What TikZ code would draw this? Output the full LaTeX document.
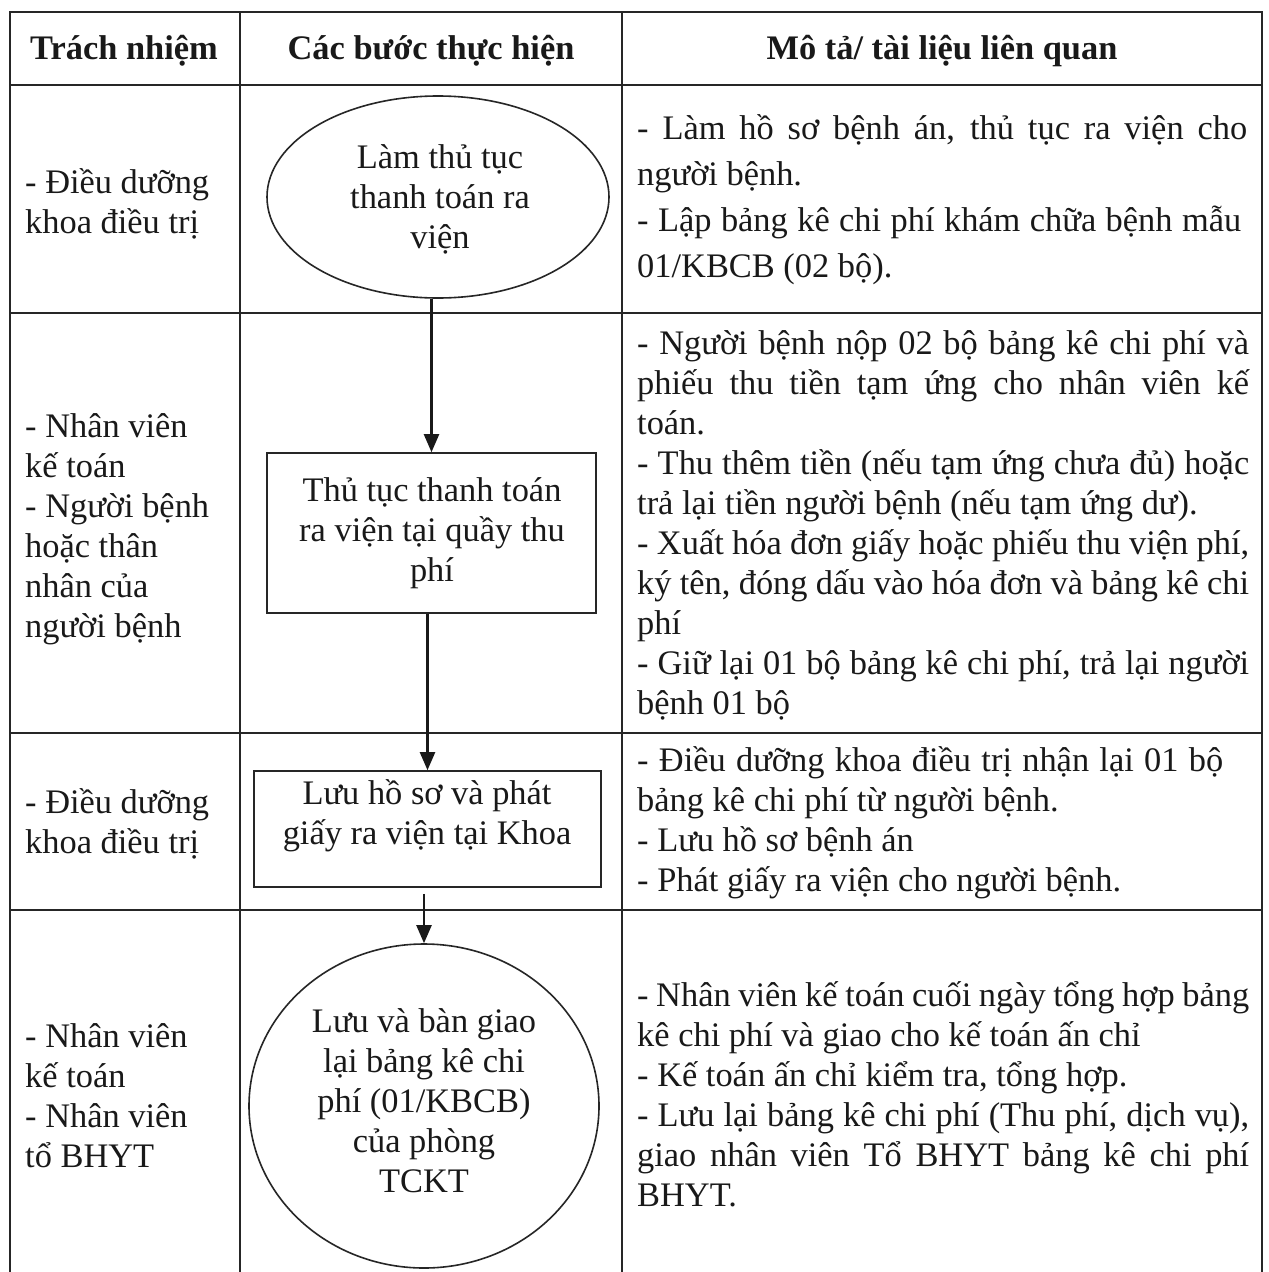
\documentclass[tikz,border=0pt]{standalone}
\usepackage{fontspec}
\setmainfont{Liberation Serif}
\usetikzlibrary{arrows.meta,shapes.geometric}
\newcommand\jl[2]{\makebox[#1pt][s]{#2}}
\begin{document}
\begin{tikzpicture}[x=1pt,y=-1pt,
  tbl/.style={line width=1.8pt, draw=black!85},
  shp/.style={draw=black!85, line width=1.6pt, inner sep=0pt},
  arr/.style={line width=2.2pt, draw=black!90, -{Triangle[length=18pt,width=15pt]}},
  txt/.style={inner sep=0pt, yshift=-3pt, align=left, text=black!90, font=\fontsize{34.4}{40}\selectfont},
  ctr/.style={inner sep=0pt, yshift=-3pt, align=center, text=black!90, font=\fontsize{34.4}{40}\selectfont},
  hdr/.style={inner sep=0pt, yshift=-3pt, text=black!90, font=\fontsize{34.4}{40}\selectfont\bfseries}]
\useasboundingbox (0,0) rectangle (1269,1272);
\fill[white] (0,0) rectangle (1269,1272);
% table
\draw[tbl] (10,1272) -- (10,12) -- (1262,12) -- (1262,1272);
\draw[tbl] (240,12) -- (240,1272);
\draw[tbl] (622,12) -- (622,1272);
\foreach \y in {85,313,733,910} \draw[tbl] (10,\y) -- (1262,\y);
% headers
\node[hdr] (h1) at (124,48) {Trách nhiệm};
\node[hdr] (h2) at (431,48) {Các bước thực hiện};
\node[hdr] (h3) at (942,48) {Mô tả/ tài liệu liên quan};
% left column
\node[txt, anchor=west] (l1) at (25,201) {- Điều dưỡng\\khoa điều trị};
\node[txt, anchor=west] (l2) at (25,526) {- Nhân viên\\kế toán\\- Người bệnh\\hoặc thân\\nhân của\\người bệnh};
\node[txt, anchor=west] (l3) at (25,821) {- Điều dưỡng\\khoa điều trị};
\node[txt, anchor=west] (l4) at (25,1093) {- Nhân viên\\kế toán\\- Nhân viên\\tổ BHYT};
% flow shapes
\node[shp, ellipse, minimum width=342, minimum height=202] (e1) at (438,197) {};
\node[ctr] (t1) at (440,196) {Làm thủ tục\\thanh toán ra\\viện};
\node[shp, rectangle, minimum width=329, minimum height=160] (r2) at (431.5,533) {};
\node[ctr] (t2) at (432,530) {Thủ tục thanh toán\\ra viện tại quầy thu\\phí};
\node[shp, rectangle, minimum width=347, minimum height=116] (r3) at (427.5,829) {};
\node[ctr] (t3) at (427,813) {Lưu hồ sơ và phát\\giấy ra viện tại Khoa};
\node[shp, ellipse, minimum width=350, minimum height=324] (c4) at (424,1106) {};
\node[ctr] (t4) at (424,1098) {Lưu và bàn giao\\lại bảng kê chi\\phí (01/KBCB)\\của phòng\\TCKT};
% arrows
\draw[arr] (r2.north |- e1.south) -- (r2.north);
\draw[arr] (r3.north |- r2.south) -- (r3.north);
\coordinate (a3) at ([yshift=-6pt]r3.south -| c4.north);
\draw[arr] (a3) -- (c4.north);
% right column
\node[txt, anchor=west, font=\fontsize{34.4}{46}\selectfont] (d1) at (637,197) {\jl{610}{- Làm hồ sơ bệnh án, thủ tục ra viện cho}\\người bệnh.\\\jl{604}{- Lập bảng kê chi phí khám chữa bệnh mẫu}\\01/KBCB (02 bộ).};
\node[txt, anchor=west] (d2) at (637,522) {\jl{612}{- Người bệnh nộp 02 bộ bảng kê chi phí và}\\\jl{612}{phiếu thu tiền tạm ứng cho nhân viên kế}\\toán.\\\jl{612}{- Thu thêm tiền (nếu tạm ứng chưa đủ) hoặc}\\trả lại tiền người bệnh (nếu tạm ứng dư).\\\jl{612}{- Xuất hóa đơn giấy hoặc phiếu thu viện phí,}\\\jl{612}{ký tên, đóng dấu vào hóa đơn và bảng kê chi}\\phí\\\jl{612}{- Giữ lại 01 bộ bảng kê chi phí, trả lại người}\\bệnh 01 bộ};
\node[txt, anchor=west] (d3) at (637,820) {\jl{586}{- Điều dưỡng khoa điều trị nhận lại 01 bộ}\\bảng kê chi phí từ người bệnh.\\- Lưu hồ sơ bệnh án\\- Phát giấy ra viện cho người bệnh.};
\node[txt, anchor=west] (d4) at (637,1091) {\jl{612}{- Nhân viên kế toán cuối ngày tổng hợp bảng}\\kê chi phí và giao cho kế toán ấn chỉ\\- Kế toán ấn chỉ kiểm tra, tổng hợp.\\\jl{612}{- Lưu lại bảng kê chi phí (Thu phí, dịch vụ),}\\\jl{612}{giao nhân viên Tổ BHYT bảng kê chi phí}\\BHYT.};
\end{tikzpicture}
\end{document}
